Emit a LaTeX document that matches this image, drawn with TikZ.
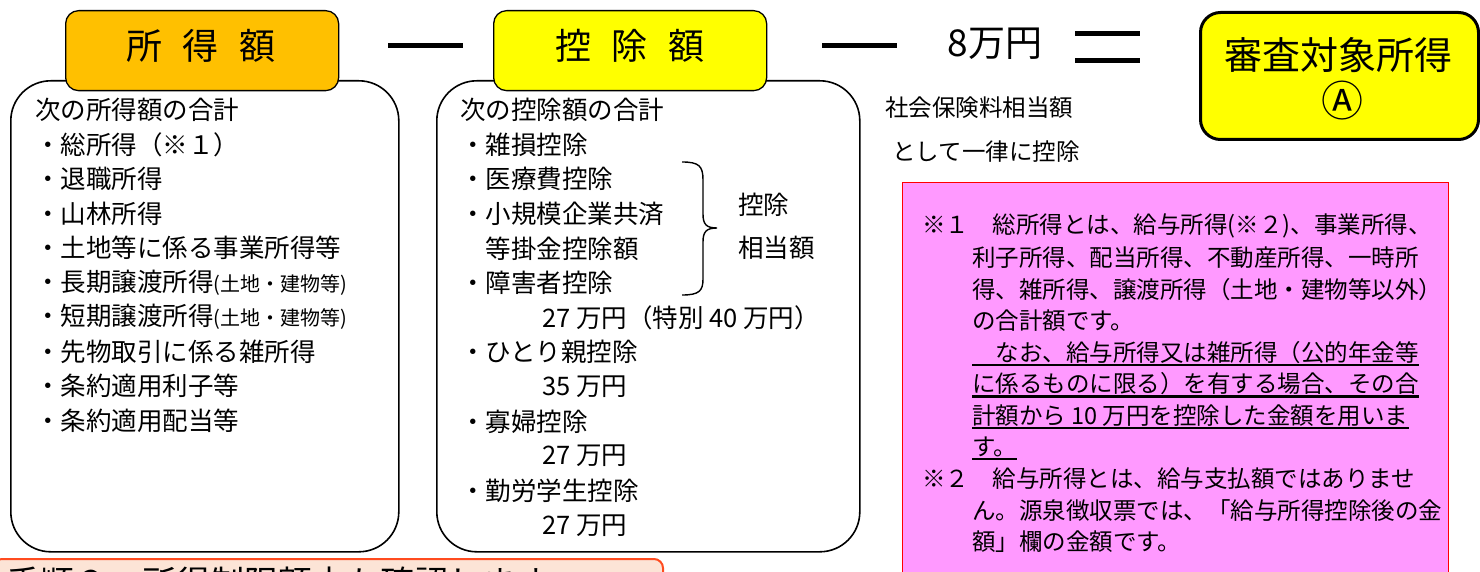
\documentclass[tikz,border=0pt]{standalone}
\usepackage{fontspec}
\setmainfont{Noto Sans CJK JP}
\definecolor{titleOrange}{HTML}{FFC000}
\definecolor{titleYellow}{HTML}{FFFF00}
\definecolor{notePink}{HTML}{FF99FF}
\definecolor{noteRed}{HTML}{FF0000}
\definecolor{hintFill}{HTML}{FCE4D6}
\definecolor{hintDraw}{HTML}{FF4B1F}
\newcommand{\bodysize}{\fontsize{25.5}{30}\selectfont}
\newcommand{\smallsize}{\fontsize{20}{24}\selectfont}
\newcommand{\notesize}{\fontsize{23.5}{28}\selectfont}
\begin{document}
\begin{tikzpicture}[x=1pt,y=-1pt,
  bigbox/.style={draw=black, line width=1.6pt, rounded corners=40pt, anchor=north west, inner sep=0pt},
  titlebox/.style={draw=black, line width=1.3pt, rounded corners=13pt, anchor=north west, inner sep=0pt, minimum width=273pt, minimum height=80pt},
  titletext/.style={font=\fontsize{36}{40}\selectfont, inner sep=0pt},
  body/.style={anchor=west, inner sep=0pt, font=\bodysize},
  notetxt/.style={anchor=west, inner sep=0pt, font=\notesize},
  opbar/.style={line width=5pt},
  uline/.style={line width=2.2pt},
]
\useasboundingbox (0,0) rectangle (1480,572);
\clip (0,0) rectangle (1480,572);

% big boxes
\node[bigbox, minimum width=388pt, minimum height=471pt] (incbox) at (10,80) {};
\node[bigbox, minimum width=423pt, minimum height=471pt] (dedbox) at (436,80) {};

% title boxes
\node[titlebox, fill=titleOrange] (inctitle) at (65,10) {};
\node[titletext] (inctitletxt) at (201,46) {所\hspace{21pt}得\hspace{21pt}額};
\node[titlebox, fill=titleYellow] (dedtitle) at (493,10) {};
\node[titletext] (dedtitletxt) at (630,46) {控\hspace{21pt}除\hspace{21pt}額};

% operators
\draw[opbar] (388,46) -- (463,46);
\draw[opbar] (822,46) -- (897,46);
\node[font=\fontsize{37}{40}\selectfont, inner sep=0pt] (eight) at (995,44) {8万円};
\draw[opbar] (1075,34) -- (1140,34);
\draw[opbar] (1075,61) -- (1140,61);

% result box
\node[draw=black, line width=3pt, rounded corners=20pt, fill=titleYellow, anchor=north west, minimum width=278pt, minimum height=127pt, inner sep=0pt] (resbox) at (1199,11) {};
\node[font=\fontsize{38}{40}\selectfont, inner sep=0pt] (restxt) at (1338,55) {審査対象所得};
\node[font=\fontsize{42}{44}\selectfont, inner sep=0pt] (resmark) at (1342,101) {Ⓐ};

% social insurance text
\node[notetxt] (soc1) at (885,108) {社会保険料相当額};
\node[notetxt] (soc2) at (892,152) {として一律に控除};

% left box content
\node[body] (i0) at (35,110) {次の所得額の合計};
\node[body] (i1) at (35,144.5) {・総所得（※１）};
\node[body] (i2) at (35,179) {・退職所得};
\node[body] (i3) at (35,213.5) {・山林所得};
\node[body] (i4) at (35,248) {・土地等に係る事業所得等};
\node[body] (i5) at (35,282.5) {・長期譲渡所得{\smallsize(土地・建物等)}};
\node[body] (i6) at (35,317) {・短期譲渡所得{\smallsize(土地・建物等)}};
\node[body] (i7) at (35,351.5) {・先物取引に係る雑所得};
\node[body] (i8) at (35,386) {・条約適用利子等};
\node[body] (i9) at (35,420.5) {・条約適用配当等};

% middle box content
\node[body] (d0) at (460,110) {次の控除額の合計};
\node[body] (d1) at (460,144.6) {・雑損控除};
\node[body] (d2) at (460,179.2) {・医療費控除};
\node[body] (d3) at (460,213.8) {・小規模企業共済};
\node[body] (d4) at (460,248.4) {　等掛金控除額};
\node[body] (d5) at (460,283) {・障害者控除};
\node[body] (d6) at (542,317.6) {27 万円（特別 40 万円）};
\node[body] (d7) at (460,352.2) {・ひとり親控除};
\node[body] (d8) at (542,386.8) {35 万円};
\node[body] (d9) at (460,421.4) {・寡婦控除};
\node[body] (d10) at (542,456) {27 万円};
\node[body] (d11) at (460,490.6) {・勤労学生控除};
\node[body] (d12) at (542,525.2) {27 万円};

% brace
\draw[line width=1.4pt] (682,162) .. controls (699,162) and (703,166) .. (703,180) -- (703,214)
  .. controls (703,224) and (706,228) .. (717,228)
  .. controls (706,228) and (703,232) .. (703,242) -- (703,279)
  .. controls (703,291) and (699,295) .. (682,295);
\node[body] (br1) at (738,205) {控除};
\node[body] (br2) at (738,248) {相当額};

% note box
\node[draw=noteRed, line width=1.3pt, fill=notePink, anchor=north west, minimum width=546pt, minimum height=420pt, inner sep=0pt] (notebox) at (902,182) {};
\node[notetxt] (n1) at (922,226) {※１　総所得とは、給与所得(※２)、事業所得、};
\node[notetxt] (n2) at (972,257.6) {利子所得、配当所得、不動産所得、一時所};
\node[notetxt] (n3) at (972,289.2) {得、雑所得、譲渡所得（土地・建物等以外）};
\node[notetxt] (n4) at (972,320.8) {の合計額です。};
\node[notetxt] (n5) at (972,352.4) {　なお、給与所得又は雑所得（公的年金等};
\node[notetxt] (n6) at (972,384) {に係るものに限る）を有する場合、その合};
\node[notetxt] (n7) at (972,415.6) {計額から 10 万円を控除した金額を用いま};
\node[notetxt] (n8) at (972,447.2) {す。};
\node[notetxt] (n9) at (922,478.8) {※２　給与所得とは、給与支払額ではありませ};
\node[notetxt] (n10) at (972,510.4) {ん。源泉徴収票では、「給与所得控除後の金};
\node[notetxt] (n11) at (972,542) {額」欄の金額です。};
\foreach \u in {n5,n6,n7,n8}{
  \draw[uline] ([yshift=-3.5pt]\u.base west) -- ([yshift=-3.5pt]\u.base east);
}

% bottom hint box (cut off at the lower edge, as in the reference)
\node[draw=hintDraw, fill=hintFill, line width=2pt, rounded corners=9pt, anchor=north west, minimum width=670pt, minimum height=60pt, inner sep=0pt] (hint) at (-8,558) {};
\node[anchor=west, inner sep=0pt, font=\fontsize{34}{40}\selectfont] (hinttxt) at (6,583) {手順２　所得制限額内か確認します};
\end{tikzpicture}
\end{document}
